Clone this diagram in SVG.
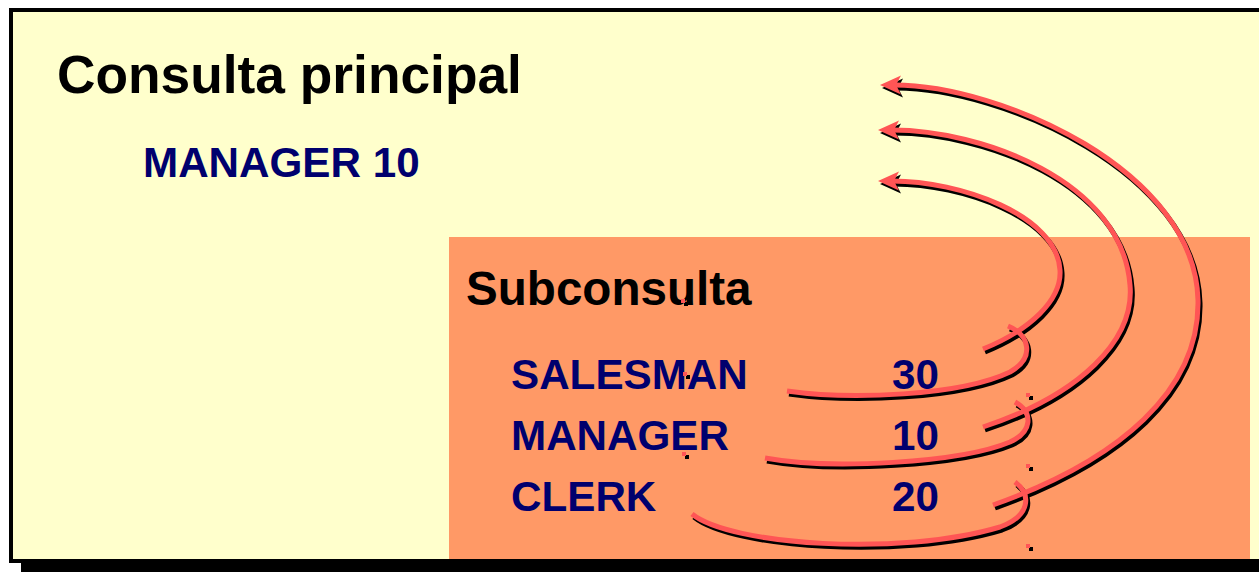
<svg xmlns="http://www.w3.org/2000/svg" xmlns:xlink="http://www.w3.org/1999/xlink" width="1259" height="572" viewBox="0 0 1259 572">
<style>
.t{font-family:"Liberation Sans",Arial,sans-serif;font-weight:bold}
.title{font-size:53.3px;fill:#000}
.sub{font-size:47.6px;fill:#000}
.val{font-size:42.2px;fill:#00006E}
.cr{fill:none;stroke:#FF5555;stroke-width:5;stroke-linecap:butt}
.cs{fill:none;stroke:#000;stroke-width:5;stroke-linecap:butt}
.hr{fill:#FF5555}
.hs{fill:#000}
.dr{fill:#FF5555}
.ds{fill:#000}
</style>
<defs>
<path id="a1" d="M787,391 C850,400 960,396 1010,372 C1035,358 1030,335 1008,326"/>
<path id="b1" d="M983,349 C1030,330 1062,300 1060,270 C1057,215 960,181 892,181"/>
<path id="a2" d="M765,458 C830,470 960,463 1010,442 C1032,432 1034,413 1015,402"/>
<path id="b2" d="M983,427 C1080,395 1135,340 1130,285 C1122,180 980,130 892,130"/>
<path id="a3" d="M692,514 C730,545 900,557 1000,527 C1030,516 1032,495 1015,482"/>
<path id="b3" d="M993,505 C1120,460 1200,390 1198,300 C1195,170 1000,85 894,85"/>
<path id="h1" d="M878,181 L899,171.5 L894,181 L899,190.5 Z"/>
<path id="h2" d="M878,130 L899,120.5 L894,130 L899,139.5 Z"/>
<path id="h3" d="M880,85 L901,75.5 L896,85 L901,94.5 Z"/>
</defs>
<rect x="0" y="0" width="1259" height="572" fill="#fff"/>
<g id="consulta-principal">
<rect x="21" y="20" width="1250" height="560" fill="#000"/>
<rect x="11" y="10" width="1260" height="551" fill="#FFFFCC" stroke="#000" stroke-width="4"/>
<text class="t title" x="57" y="93">Consulta principal</text>
<text class="t val" x="143" y="177">MANAGER 10</text>
</g>
<g id="subconsulta">
<rect x="449" y="237" width="801" height="322" fill="#FF9966"/>
<text class="t sub" x="466" y="305">Subconsulta</text>
<text class="t val" x="511" y="389">SALESMAN</text>
<text class="t val" x="511" y="450">MANAGER</text>
<text class="t val" x="511" y="511">CLERK</text>
<text class="t val" x="892" y="389">30</text>
<text class="t val" x="892" y="450">10</text>
<text class="t val" x="892" y="511">20</text>
</g>
<g id="connectors">
<g transform="translate(2,3)">
<use xlink:href="#a1" class="cs"/>
<use xlink:href="#a2" class="cs"/>
<use xlink:href="#a3" class="cs"/>
<use xlink:href="#b1" class="cs"/>
<use xlink:href="#b2" class="cs"/>
<use xlink:href="#b3" class="cs"/>
<use xlink:href="#h1" class="hs"/>
<use xlink:href="#h2" class="hs"/>
<use xlink:href="#h3" class="hs"/>
</g>
<use xlink:href="#a1" class="cr"/>
<use xlink:href="#a2" class="cr"/>
<use xlink:href="#a3" class="cr"/>
<use xlink:href="#b1" class="cr"/>
<use xlink:href="#b2" class="cr"/>
<use xlink:href="#b3" class="cr"/>
<use xlink:href="#h1" class="hr"/>
<use xlink:href="#h2" class="hr"/>
<use xlink:href="#h3" class="hr"/>
</g>
<g id="marks">
<rect class="ds" x="684" y="302" width="4" height="4"/><rect class="dr" x="681" y="299" width="4" height="4"/>
<rect class="ds" x="686" y="375" width="4" height="4"/><rect class="dr" x="683" y="372" width="4" height="4"/>
<rect class="ds" x="685" y="455" width="4" height="4"/><rect class="dr" x="682" y="452" width="4" height="4"/>
<rect class="ds" x="1029" y="396" width="4" height="4"/><rect class="dr" x="1026" y="393" width="4" height="4"/>
<rect class="ds" x="1029" y="467" width="4" height="4"/><rect class="dr" x="1026" y="464" width="4" height="4"/>
<rect class="ds" x="1029" y="547" width="4" height="4"/><rect class="dr" x="1026" y="544" width="4" height="4"/>
</g>
</svg>
